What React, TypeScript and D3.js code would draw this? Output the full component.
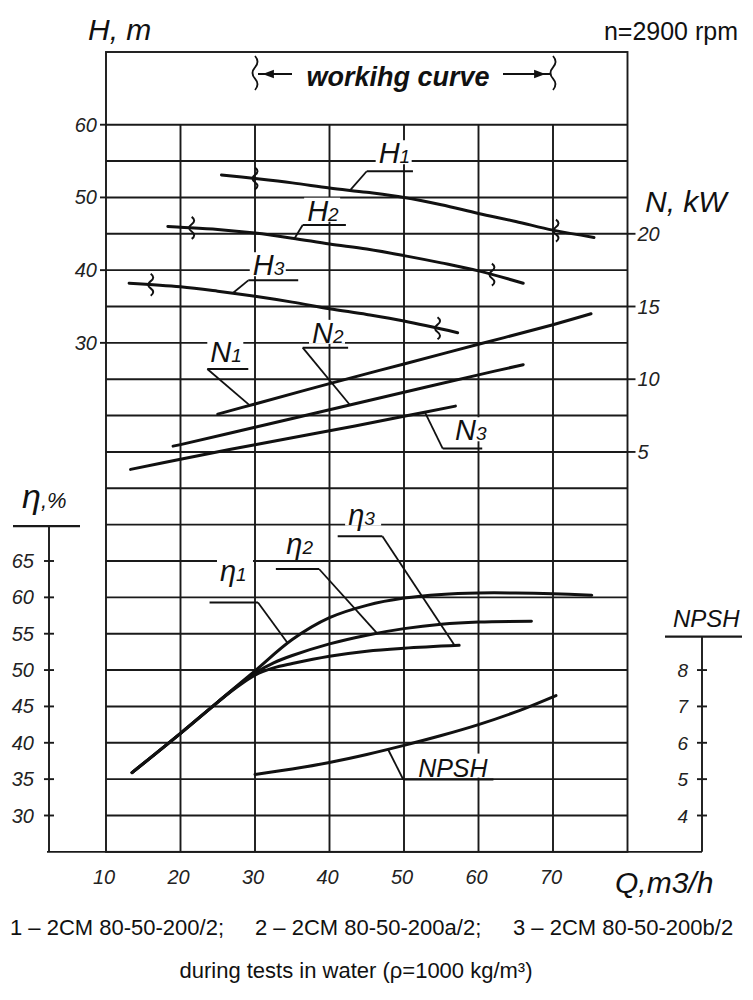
import * as d3 from "d3";

// axis ticks
const Q_TICKS = [10, 20, 30, 40, 50, 60, 70];
const H_TICKS = [60, 50, 40, 30];
const N_TICKS = [20, 15, 10, 5];
const ETA_TICKS = [65, 60, 55, 50, 45, 40, 35, 30];
const NPSH_TICKS = [8, 7, 6, 5, 4];

// head H, m
const qH1 = [25.5, 30, 35, 40, 45, 50, 55, 60, 65, 70, 75.5];
const h1 = [53.1, 52.6, 52.0, 51.3, 50.7, 50.0, 49.0, 47.8, 46.7, 45.5, 44.5];
const qH2 = [18.3, 20, 25, 30, 35, 40, 45, 50, 55, 60, 66];
const h2 = [46.0, 45.9, 45.6, 45.1, 44.4, 43.6, 42.9, 42.0, 41.0, 39.9, 38.2];
const qH3 = [13.1, 20, 25, 30, 35, 40, 45, 50, 57.2];
const h3 = [38.2, 37.7, 37.1, 36.4, 35.6, 34.7, 33.9, 33.0, 31.4];

// power N, kW
const qN1 = [25, 30, 40, 50, 60, 70, 75.1];
const n1 = [7.6, 8.3, 9.7, 11.05, 12.4, 13.75, 14.5];
const qN2 = [19, 20, 30, 40, 50, 60, 66];
const n2 = [5.4, 5.5, 6.7, 7.9, 9.1, 10.3, 11.0];
const qN3 = [13.3, 20, 30, 40, 50, 56.9];
const n3 = [3.8, 4.5, 5.5, 6.45, 7.45, 8.15];

// efficiency, %
const qEta1 = [13.5, 20, 25, 30, 35, 40, 45, 50, 55, 60, 65, 70, 75.2];
const eta1 = [35.9, 41.3, 45.6, 49.9, 54.2, 57.2, 58.9, 59.9, 60.4, 60.6, 60.6, 60.5, 60.3];
const qEta2 = [13.5, 20, 25, 27.5, 30, 32.5, 35, 40, 45, 50, 55, 60, 67.1];
const eta2 = [35.9, 41.3, 45.6, 47.7, 49.6, 51.0, 52.0, 53.6, 54.8, 55.7, 56.3, 56.6, 56.7];
const qEta3 = [13.5, 20, 25, 27.5, 30, 32.5, 35, 40, 45, 50, 57.4];
const eta3 = [35.9, 41.3, 45.6, 47.6, 49.3, 50.3, 50.9, 51.9, 52.6, 53.0, 53.4];

// NPSH, m
const qNpsh = [30, 35, 40, 45, 50, 55, 60, 65, 70.4];
const npsh = [5.13, 5.28, 5.46, 5.68, 5.93, 6.2, 6.5, 6.85, 7.3];

// working range marks on head curves
const H_MARKS = [
    [30, 70.4],
    [21.5, 61.8],
    [16, 54.5],
];

const LEGEND = ["1 – 2CM 80-50-200/2;", "2 – 2CM 80-50-200a/2;", "3 – 2CM 80-50-200b/2"];
const NOTE = "during tests in water (ρ=1000 kg/m³)";

const FONT = "'Liberation Sans', Arial, sans-serif";

export default function App() {
    const width = 753;
    const height = 1000;

    const x = d3.scaleLinear().domain([10, 80]).range([106, 627.5]);
    const yH = d3.scaleLinear().domain([0, 70]).range([561, 52]);
    const yN = d3.scaleLinear().domain([0, 20]).range([yH(5), yH(45)]);
    const yEta = d3.scaleLinear().domain([25, 65]).range([yH(-40), yH(0)]);
    const yNpsh = d3.scaleLinear().domain([4, 8]).range([yEta(30), yEta(50)]);

    const etaAxisX = 49;
    const npshAxisX = 702;
    const top = yH(70);
    const bottom = yEta(25);

    const curves = [
        { qs: qH1, vs: h1, y: yH },
        { qs: qH2, vs: h2, y: yH },
        { qs: qH3, vs: h3, y: yH },
        { qs: qN1, vs: n1, y: yN },
        { qs: qN2, vs: n2, y: yN },
        { qs: qN3, vs: n3, y: yN },
        { qs: qEta1, vs: eta1, y: yEta },
        { qs: qEta2, vs: eta2, y: yEta },
        { qs: qEta3, vs: eta3, y: yEta },
        { qs: qNpsh, vs: npsh, y: yNpsh },
    ];

    const path = (c: typeof curves[number]) =>
        d3.line<number>()
            .x(q => x(q))
            .y((q, i) => c.y(c.vs[i]))
            .curve(d3.curveCatmullRom.alpha(0.5))(c.qs) as string;

    const valueAt = (c: typeof curves[number], q: number) =>
        d3.scaleLinear().domain(c.qs).range(c.vs)(q);

    // curve labels: text position, underline, leader to curve
    const labels = [
        { main: "H", sub: "1", c: 0, tq: 46.6, tv: 54.7, ul: [45, 51.2], uv: 53.6, from: 0, to: 42.75 },
        { main: "H", sub: "2", c: 1, tq: 37.0, tv: 46.8, ul: [36.4, 42.2], uv: 46.2, from: 0, to: 35.3 },
        { main: "H", sub: "3", c: 2, tq: 29.7, tv: 39.3, ul: [29.1, 35.8], uv: 38.6, from: 0, to: 27.0 },
        { main: "N", sub: "1", c: 3, tq: 24.0, tv: 11.2, ul: [23.6, 29.1], uv: 10.7, from: 0, to: 29.3 },
        { main: "N", sub: "2", c: 4, tq: 37.65, tv: 12.5, ul: [36.4, 42.5], uv: 12.17, from: 0, to: 42.75 },
        { main: "N", sub: "3", c: 5, tq: 56.85, tv: 5.8, ul: [55.2, 60.5], uv: 5.23, from: 0, to: 52.8 },
        { main: "η", sub: "1", c: 6, tq: 25.3, tv: 62.3, ul: [23.9, 30.4], uv: 59.3, from: 1, to: 34.4 },
        { main: "η", sub: "2", c: 7, tq: 34.2, tv: 66.0, ul: [32.8, 38.6], uv: 63.9, from: 1, to: 46.4 },
        { main: "η", sub: "3", c: 8, tq: 42.5, tv: 70.0, ul: [41.1, 47.1], uv: 68.4, from: 1, to: 56.8 },
        { main: "NPSH", sub: "", c: 9, tq: 51.9, tv: 5.07, ul: [49.9, 62.0], uv: 4.99, from: 0, to: 47.85 },
    ];

    const squiggle = (cx: number, cy: number, h: number) =>
        `M${cx},${cy - h / 2} q5,${h / 6} 0,${h / 3} q-5,${h / 6} 0,${h / 3} q5,${h / 6} 0,${h / 3}`;

    const gridLevelsH = d3.range(60, -1, -5);
    const gridLevelsEta = d3.range(60, 29, -5);

    return (
        <svg width={width} height={height} style={{ position: "absolute", left: 0, top: 0, background: "#fff" }}
            fontFamily={FONT}>
            <rect width={width} height={height} fill="#fff" />

            {/* grid */}
            <g stroke="#1a1a1a" strokeWidth={1.9}>
                {gridLevelsH.map(v => (
                    <line key={"h" + v} x1={x(10)} x2={x(80)} y1={yH(v)} y2={yH(v)} />
                ))}
                {gridLevelsEta.map(v => (
                    <line key={"e" + v} x1={x(10)} x2={x(80)} y1={yEta(v)} y2={yEta(v)} />
                ))}
                {Q_TICKS.slice(1).map(q => (
                    <line key={"v" + q} x1={x(q)} x2={x(q)} y1={yH(60)} y2={bottom} />
                ))}
                <rect x={x(10)} y={top} width={x(80) - x(10)} height={bottom - top} fill="none" />
                <line x1={etaAxisX - 2} x2={npshAxisX} y1={bottom} y2={bottom} />
            </g>

            {/* H axis */}
            <g>
                {H_TICKS.map(v => (
                    <g key={v}>
                        <line x1={x(10) - 6} x2={x(10)} y1={yH(v)} y2={yH(v)} stroke="#1a1a1a" strokeWidth={1.9} />
                        <text x={x(10) - 9} y={yH(v) + 7} textAnchor="end" fontSize={20} fontStyle="italic" fill="#222">{v}</text>
                    </g>
                ))}
                <text x={88} y={40} fontSize={30} fontStyle="italic" fill="#111">H, m</text>
            </g>

            {/* N axis */}
            <g>
                {N_TICKS.map(v => (
                    <g key={v}>
                        <line x1={x(80)} x2={x(80) + 8} y1={yN(v)} y2={yN(v)} stroke="#1a1a1a" strokeWidth={1.9} />
                        <text x={x(80) + 10} y={yN(v) + 7} fontSize={20} fontStyle="italic" fill="#222">{v}</text>
                    </g>
                ))}
                <text x={645} y={212} fontSize={30} fontStyle="italic" fill="#111">N, kW</text>
            </g>

            {/* efficiency axis */}
            <g stroke="#1a1a1a" strokeWidth={1.9}>
                <line x1={etaAxisX} x2={etaAxisX} y1={yEta(69.8)} y2={bottom} />
                <line x1={13} x2={80} y1={yEta(69.8)} y2={yEta(69.8)} strokeWidth={2.4} />
                {ETA_TICKS.map(v => (
                    <line key={v} x1={etaAxisX - 5} x2={etaAxisX + 5} y1={yEta(v)} y2={yEta(v)} />
                ))}
            </g>
            {ETA_TICKS.map(v => (
                <text key={v} x={etaAxisX - 15} y={yEta(v) + 7} textAnchor="end" fontSize={20} fontStyle="italic" fill="#222">{v}</text>
            ))}
            <text x={22} y={508} fill="#111" fontStyle="italic">
                <tspan fontSize={34}>η</tspan>
                <tspan fontSize={22}>,%</tspan>
            </text>

            {/* NPSH axis */}
            <g stroke="#1a1a1a" strokeWidth={1.9}>
                <line x1={npshAxisX} x2={npshAxisX} y1={yNpsh(8.92)} y2={bottom} />
                <line x1={665} x2={742} y1={yNpsh(8.92)} y2={yNpsh(8.92)} strokeWidth={2.4} />
                {NPSH_TICKS.map(v => (
                    <line key={v} x1={npshAxisX - 5} x2={npshAxisX + 5} y1={yNpsh(v)} y2={yNpsh(v)} />
                ))}
            </g>
            {NPSH_TICKS.map(v => (
                <text key={v} x={npshAxisX - 14} y={yNpsh(v) + 7} textAnchor="end" fontSize={19} fontStyle="italic" fill="#222">{v}</text>
            ))}
            <text x={673} y={627} fontSize={24} fontStyle="italic" fill="#111">NPSH</text>

            {/* Q axis */}
            {Q_TICKS.map(q => (
                <text key={q} x={x(q) - 2} y={884} textAnchor="middle" fontSize={20} fontStyle="italic" fill="#222">{q}</text>
            ))}
            <text x={615} y={893} fontSize={30} fontStyle="italic" fill="#111">Q,m3/h</text>

            {/* header */}
            <text x={738} y={40} textAnchor="end" fontSize={25} fill="#111">n=2900 rpm</text>
            <text x={398} y={86} textAnchor="middle" fontSize={27} fontWeight="bold" fontStyle="italic" fill="#111">workihg curve</text>
            <g stroke="#111" strokeWidth={1.8} fill="none">
                <path d={squiggle(x(30), 73, 34)} />
                <path d={squiggle(x(70), 73, 34)} />
                <line x1={x(30) + 3} x2={292} y1={74} y2={74} />
                <line x1={503} x2={x(70) - 3} y1={74} y2={74} />
                <path d={`M${x(30) + 10},74 l8,-3 l0,6 z`} fill="#111" />
                <path d={`M${x(70) - 10},74 l-8,-3 l0,6 z`} fill="#111" />
            </g>

            {/* label backgrounds break the grid */}
            {labels.map((l, i) => {
                const y = curves[l.c].y;
                const w = l.main === "NPSH" ? 72 : 36;
                return <rect key={i} x={x(l.tq) - 3} y={y(l.tv) - 23} width={w} height={24} fill="#fff" />;
            })}

            {/* curves */}
            <g fill="none" stroke="#111" strokeWidth={3} strokeLinecap="round">
                {curves.map((c, i) => <path key={i} d={path(c)} />)}
            </g>

            {/* working range marks */}
            <g fill="none" stroke="#111" strokeWidth={2}>
                {H_MARKS.map((qs, i) => qs.map(q => (
                    <path key={i + "-" + q} d={squiggle(x(q), yH(valueAt(curves[i], q)), 22)} />
                )))}
            </g>

            {/* labels */}
            {labels.map((l, i) => {
                const c = curves[l.c];
                const ux = l.from === 0 ? x(l.ul[0]) : x(l.ul[1]);
                const uy = c.y(l.uv);
                return (
                    <g key={i}>
                        <line x1={x(l.ul[0])} x2={x(l.ul[1])} y1={uy} y2={uy} stroke="#111" strokeWidth={2} />
                        <line x1={ux} y1={uy} x2={x(l.to)} y2={c.y(valueAt(c, l.to))} stroke="#111" strokeWidth={1.8} />
                        <text x={x(l.tq)} y={c.y(l.tv)} fontStyle="italic" fill="#111">
                            <tspan fontSize={l.main === "NPSH" ? 25 : 29}>{l.main}</tspan>
                            <tspan fontSize={19}>{l.sub}</tspan>
                        </text>
                    </g>
                );
            })}

            {/* legend */}
            <g fontSize={22} fill="#111">
                <text x={10} y={935}>{LEGEND[0]}</text>
                <text x={255} y={935}>{LEGEND[1]}</text>
                <text x={513} y={935}>{LEGEND[2]}</text>
                <text x={356} y={978} textAnchor="middle">{NOTE}</text>
            </g>
        </svg>
    );
}
